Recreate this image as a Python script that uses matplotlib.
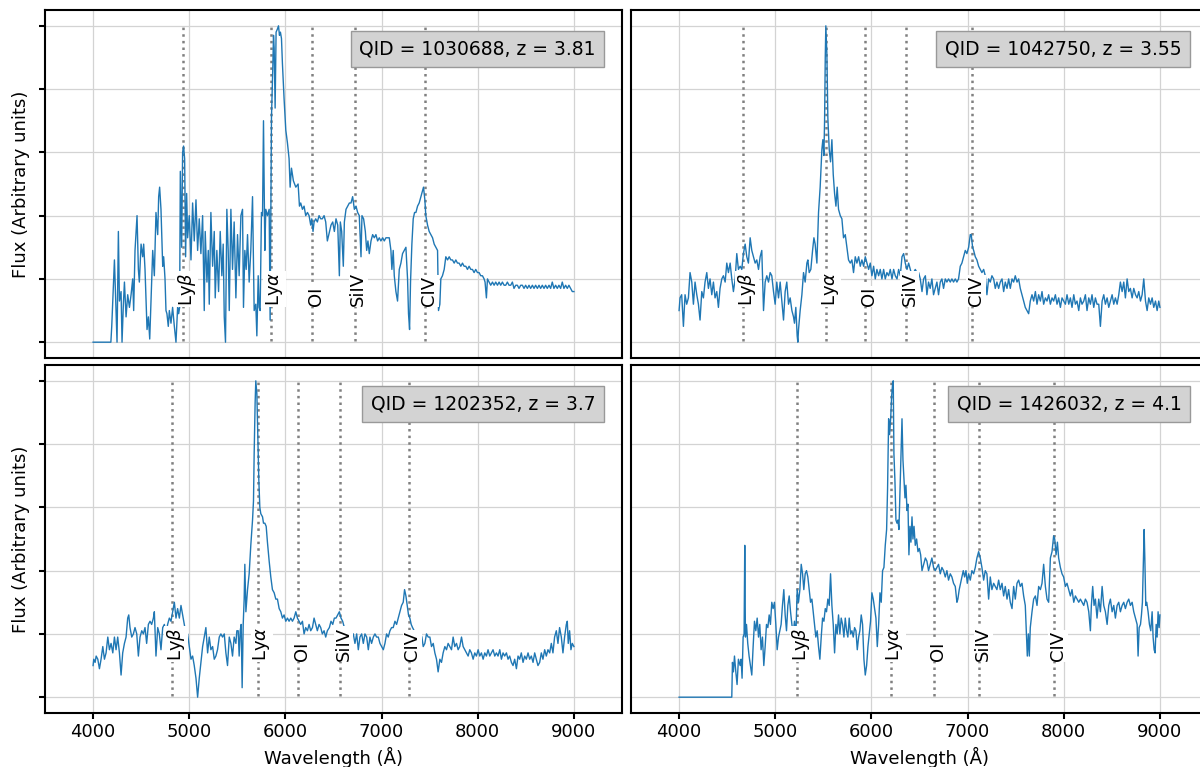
import matplotlib.pyplot as plt

plt.rcParams['font.family'] = 'DejaVu Sans'
plt.rcParams['font.size'] = 13

# emission lines (rest frame, Angstrom)
line_names = [r'Ly$\beta$', r'Ly$\alpha$', 'OI', 'SiIV', 'CIV']
line_rest = [1025.72, 1215.67, 1304.35, 1396.76, 1549.06]

qids = [1030688, 1042750, 1202352, 1426032]
redshifts = [3.81, 3.55, 3.7, 4.1]

# (wavelength, normalised flux)
spec_1030688 = [
    (4000, 0.00), (4185, 0.00), (4194, 0.05), (4205, 0.13), (4222, 0.26), (4239, 0.10), (4249, 0.00),
    (4263, 0.35), (4274, 0.13), (4291, 0.16), (4301, 0.00), (4315, 0.12), (4326, 0.19), (4343, 0.08),
    (4360, 0.15), (4378, 0.11), (4395, 0.15), (4412, 0.20), (4422, 0.10), (4436, 0.29), (4457, 0.40),
    (4471, 0.23), (4481, 0.19), (4499, 0.31), (4516, 0.27), (4526, 0.31), (4540, 0.23), (4551, 0.13),
    (4561, 0.04), (4575, 0.08), (4589, 0.01), (4602, 0.13), (4620, 0.29), (4637, 0.21), (4654, 0.41),
    (4672, 0.34), (4682, 0.46), (4692, 0.49), (4706, 0.42), (4724, 0.24), (4734, 0.27), (4748, 0.20),
    (4758, 0.10), (4768, 0.09), (4782, 0.05), (4793, 0.10), (4810, 0.06), (4827, 0.11), (4845, 0.05),
    (4862, 0.00), (4879, 0.11), (4890, 0.09), (4900, 0.11), (4907, 0.54), (4921, 0.30), (4931, 0.60),
    (4941, 0.62), (4952, 0.58), (4962, 0.27), (4973, 0.47), (4983, 0.33), (5000, 0.40), (5018, 0.26),
    (5035, 0.44), (5052, 0.32), (5070, 0.45), (5087, 0.29), (5104, 0.39), (5121, 0.28), (5139, 0.40),
    (5156, 0.10), (5166, 0.35), (5184, 0.19), (5198, 0.29), (5208, 0.12), (5225, 0.41), (5243, 0.24),
    (5260, 0.35), (5270, 0.14), (5287, 0.29), (5305, 0.16), (5322, 0.35), (5339, 0.21), (5353, 0.31),
    (5364, 0.08), (5377, 0.00), (5391, 0.42), (5405, 0.29), (5416, 0.10), (5433, 0.42), (5450, 0.23),
    (5467, 0.38), (5485, 0.14), (5502, 0.34), (5519, 0.21), (5537, 0.40), (5554, 0.42), (5564, 0.11),
    (5578, 0.29), (5592, 0.23), (5606, 0.34), (5623, 0.19), (5640, 0.29), (5658, 0.46), (5675, 0.10),
    (5692, 0.12), (5703, 0.02), (5717, 0.21), (5727, 0.11), (5737, 0.10), (5751, 0.41), (5762, 0.40),
    (5772, 0.70), (5786, 0.29), (5796, 0.42), (5813, 0.40), (5831, 0.42), (5841, 0.07), (5855, 0.71),
    (5869, 0.87), (5876, 0.97), (5883, 0.93), (5893, 0.74), (5903, 0.98), (5917, 0.99), (5928, 1.00),
    (5938, 0.97), (5948, 0.98), (5959, 0.96), (5969, 0.88), (5986, 0.77), (6004, 0.67), (6021, 0.63),
    (6038, 0.58), (6049, 0.49), (6063, 0.55), (6083, 0.51), (6108, 0.49), (6132, 0.50), (6146, 0.43),
    (6159, 0.44), (6177, 0.42), (6194, 0.43), (6211, 0.40), (6229, 0.41), (6246, 0.40), (6263, 0.37),
    (6274, 0.39), (6287, 0.35), (6298, 0.38), (6315, 0.39), (6332, 0.38), (6350, 0.40), (6367, 0.39),
    (6384, 0.39), (6402, 0.40), (6419, 0.38), (6436, 0.32), (6474, 0.37), (6492, 0.38), (6509, 0.35),
    (6526, 0.39), (6544, 0.37), (6561, 0.21), (6571, 0.38), (6585, 0.35), (6602, 0.24), (6613, 0.38),
    (6630, 0.42), (6647, 0.43), (6665, 0.44), (6682, 0.44), (6699, 0.46), (6717, 0.42), (6734, 0.43),
    (6751, 0.41), (6768, 0.40), (6786, 0.27), (6796, 0.40), (6813, 0.39), (6831, 0.35), (6845, 0.29),
    (6858, 0.32), (6872, 0.28), (6890, 0.32), (6907, 0.34), (6924, 0.33), (6941, 0.34), (6959, 0.32),
    (6976, 0.33), (6993, 0.32), (7011, 0.33), (7028, 0.32), (7045, 0.33), (7062, 0.33), (7080, 0.33),
    (7097, 0.29), (7107, 0.23), (7121, 0.29), (7132, 0.21), (7149, 0.16), (7166, 0.13), (7184, 0.23),
    (7201, 0.25), (7218, 0.28), (7236, 0.29), (7253, 0.30), (7270, 0.20), (7280, 0.09), (7291, 0.04),
    (7301, 0.19), (7315, 0.31), (7329, 0.39), (7343, 0.41), (7357, 0.41), (7374, 0.43), (7391, 0.44),
    (7409, 0.46), (7426, 0.48), (7436, 0.49), (7450, 0.45), (7460, 0.40), (7478, 0.37), (7495, 0.35),
    (7512, 0.34), (7530, 0.33), (7547, 0.31), (7564, 0.30), (7582, 0.29), (7592, 0.10), (7606, 0.12),
    (7616, 0.20), (7633, 0.21), (7651, 0.23), (7668, 0.27), (7686, 0.26), (7703, 0.27), (7720, 0.26),
    (7737, 0.26), (7755, 0.25), (7772, 0.26), (7789, 0.25), (7806, 0.25), (7824, 0.24), (7841, 0.25),
    (7858, 0.24), (7876, 0.24), (7893, 0.23), (7910, 0.24), (7928, 0.23), (7945, 0.23), (7962, 0.22),
    (7979, 0.23), (7997, 0.22), (8014, 0.22), (8031, 0.21), (8049, 0.21), (8066, 0.20), (8076, 0.19),
    (8090, 0.14), (8101, 0.20), (8118, 0.19), (8135, 0.18), (8153, 0.19), (8170, 0.18), (8187, 0.19),
    (8205, 0.18), (8222, 0.19), (8239, 0.18), (8256, 0.19), (8274, 0.18), (8291, 0.18), (8308, 0.19),
    (8325, 0.18), (8343, 0.18), (8360, 0.19), (8377, 0.17), (8395, 0.18), (8412, 0.18), (8429, 0.17),
    (8447, 0.18), (8464, 0.18), (8481, 0.17), (8498, 0.18), (8516, 0.17), (8533, 0.18), (8550, 0.17),
    (8568, 0.18), (8585, 0.17), (8602, 0.18), (8620, 0.17), (8637, 0.18), (8654, 0.17), (8671, 0.18),
    (8689, 0.17), (8706, 0.18), (8723, 0.17), (8741, 0.18), (8758, 0.17), (8775, 0.19), (8792, 0.17),
    (8810, 0.18), (8827, 0.17), (8844, 0.18), (8862, 0.17), (8879, 0.19), (8896, 0.17), (8914, 0.18),
    (8931, 0.17), (8948, 0.18), (8966, 0.17), (8983, 0.16), (9000, 0.16),
]

spec_1042750 = [
    (4000, 0.10), (4010, 0.14), (4027, 0.15), (4045, 0.05), (4062, 0.15), (4079, 0.12), (4097, 0.14),
    (4114, 0.22), (4132, 0.19), (4149, 0.12), (4166, 0.19), (4184, 0.15), (4201, 0.12), (4218, 0.07),
    (4236, 0.16), (4253, 0.14), (4270, 0.19), (4288, 0.22), (4305, 0.17), (4322, 0.20), (4340, 0.15),
    (4357, 0.19), (4374, 0.14), (4392, 0.16), (4409, 0.11), (4426, 0.17), (4444, 0.20), (4461, 0.21),
    (4479, 0.19), (4496, 0.25), (4513, 0.22), (4531, 0.25), (4548, 0.20), (4565, 0.16), (4583, 0.20),
    (4600, 0.28), (4617, 0.23), (4635, 0.24), (4652, 0.23), (4669, 0.28), (4687, 0.31), (4704, 0.27),
    (4721, 0.25), (4739, 0.33), (4756, 0.29), (4773, 0.27), (4791, 0.25), (4808, 0.26), (4826, 0.23),
    (4843, 0.27), (4860, 0.29), (4878, 0.10), (4895, 0.19), (4912, 0.21), (4930, 0.19), (4947, 0.22),
    (4964, 0.21), (4982, 0.16), (4999, 0.12), (5016, 0.19), (5034, 0.14), (5051, 0.19), (5068, 0.13),
    (5086, 0.07), (5103, 0.16), (5120, 0.19), (5138, 0.12), (5155, 0.14), (5173, 0.10), (5190, 0.08),
    (5200, 0.06), (5214, 0.11), (5228, 0.02), (5235, 0.00), (5242, 0.04), (5259, 0.10), (5277, 0.15),
    (5294, 0.22), (5311, 0.19), (5329, 0.25), (5339, 0.26), (5353, 0.22), (5370, 0.23), (5388, 0.29),
    (5402, 0.33), (5415, 0.31), (5433, 0.25), (5450, 0.41), (5467, 0.49), (5485, 0.61), (5495, 0.64),
    (5506, 0.59), (5513, 0.70), (5520, 0.90), (5526, 1.00), (5537, 0.91), (5547, 0.71), (5561, 0.61),
    (5575, 0.57), (5589, 0.64), (5603, 0.53), (5617, 0.47), (5631, 0.43), (5644, 0.49), (5658, 0.42),
    (5676, 0.40), (5693, 0.39), (5710, 0.33), (5728, 0.34), (5745, 0.30), (5762, 0.26), (5780, 0.25),
    (5797, 0.26), (5814, 0.22), (5832, 0.27), (5849, 0.25), (5867, 0.27), (5884, 0.24), (5901, 0.26),
    (5919, 0.24), (5936, 0.27), (5953, 0.25), (5971, 0.23), (5988, 0.25), (6005, 0.21), (6023, 0.24),
    (6040, 0.20), (6057, 0.23), (6075, 0.21), (6092, 0.23), (6109, 0.20), (6127, 0.23), (6144, 0.20),
    (6161, 0.22), (6179, 0.21), (6196, 0.23), (6214, 0.20), (6231, 0.23), (6248, 0.21), (6266, 0.20),
    (6283, 0.23), (6300, 0.21), (6318, 0.27), (6335, 0.28), (6352, 0.25), (6370, 0.23), (6387, 0.25),
    (6404, 0.23), (6422, 0.21), (6439, 0.22), (6456, 0.23), (6474, 0.22), (6491, 0.22), (6508, 0.20),
    (6526, 0.16), (6543, 0.20), (6561, 0.21), (6577, 0.15), (6594, 0.19), (6611, 0.17), (6629, 0.20),
    (6646, 0.15), (6664, 0.17), (6681, 0.19), (6698, 0.15), (6716, 0.19), (6733, 0.20), (6750, 0.17),
    (6768, 0.20), (6785, 0.19), (6802, 0.20), (6820, 0.19), (6837, 0.20), (6854, 0.19), (6872, 0.20),
    (6889, 0.19), (6906, 0.20), (6924, 0.24), (6941, 0.25), (6958, 0.27), (6976, 0.29), (6993, 0.28),
    (7011, 0.30), (7028, 0.34), (7038, 0.34), (7052, 0.30), (7063, 0.29), (7080, 0.27), (7097, 0.26),
    (7115, 0.24), (7132, 0.23), (7149, 0.22), (7167, 0.23), (7184, 0.21), (7201, 0.15), (7219, 0.20),
    (7236, 0.19), (7253, 0.21), (7271, 0.20), (7288, 0.17), (7305, 0.19), (7323, 0.17), (7340, 0.19),
    (7358, 0.20), (7375, 0.16), (7392, 0.19), (7410, 0.17), (7427, 0.20), (7444, 0.17), (7462, 0.20),
    (7479, 0.19), (7496, 0.21), (7514, 0.19), (7531, 0.20), (7548, 0.17), (7566, 0.15), (7583, 0.13),
    (7600, 0.11), (7618, 0.10), (7635, 0.09), (7652, 0.13), (7670, 0.15), (7687, 0.13), (7705, 0.16),
    (7722, 0.12), (7739, 0.15), (7757, 0.13), (7774, 0.16), (7791, 0.12), (7809, 0.14), (7826, 0.13),
    (7843, 0.15), (7861, 0.12), (7878, 0.14), (7895, 0.13), (7913, 0.15), (7930, 0.12), (7947, 0.14),
    (7965, 0.11), (7982, 0.14), (7999, 0.13), (8017, 0.12), (8034, 0.15), (8052, 0.12), (8069, 0.14),
    (8086, 0.11), (8104, 0.15), (8121, 0.12), (8138, 0.13), (8156, 0.10), (8173, 0.14), (8190, 0.12),
    (8208, 0.13), (8225, 0.15), (8242, 0.10), (8260, 0.14), (8277, 0.12), (8294, 0.15), (8312, 0.11),
    (8329, 0.14), (8346, 0.12), (8364, 0.12), (8381, 0.05), (8399, 0.13), (8416, 0.15), (8433, 0.12),
    (8451, 0.14), (8468, 0.11), (8485, 0.13), (8503, 0.15), (8520, 0.12), (8537, 0.14), (8555, 0.12),
    (8572, 0.15), (8589, 0.19), (8607, 0.16), (8624, 0.19), (8641, 0.14), (8659, 0.20), (8676, 0.16),
    (8693, 0.17), (8711, 0.14), (8728, 0.17), (8746, 0.15), (8763, 0.14), (8780, 0.16), (8798, 0.13),
    (8815, 0.15), (8832, 0.20), (8850, 0.13), (8867, 0.10), (8884, 0.14), (8902, 0.12), (8919, 0.14),
    (8936, 0.11), (8954, 0.13), (8971, 0.10), (8988, 0.13), (9000, 0.11),
]

spec_1202352 = [
    (4000, 0.10), (4007, 0.12), (4021, 0.11), (4032, 0.13), (4049, 0.12), (4066, 0.09), (4083, 0.12),
    (4101, 0.16), (4118, 0.12), (4135, 0.14), (4153, 0.19), (4170, 0.15), (4187, 0.17), (4205, 0.14),
    (4222, 0.19), (4239, 0.15), (4256, 0.19), (4274, 0.14), (4291, 0.07), (4308, 0.14), (4326, 0.17),
    (4343, 0.19), (4360, 0.25), (4371, 0.26), (4384, 0.22), (4402, 0.19), (4419, 0.20), (4436, 0.22),
    (4454, 0.20), (4471, 0.13), (4488, 0.19), (4506, 0.21), (4523, 0.20), (4540, 0.22), (4557, 0.17),
    (4575, 0.23), (4592, 0.24), (4609, 0.23), (4627, 0.25), (4637, 0.27), (4654, 0.13), (4672, 0.22),
    (4689, 0.20), (4706, 0.15), (4724, 0.22), (4741, 0.23), (4758, 0.20), (4775, 0.23), (4793, 0.25),
    (4810, 0.24), (4827, 0.27), (4845, 0.30), (4862, 0.25), (4879, 0.28), (4897, 0.25), (4914, 0.29),
    (4931, 0.26), (4948, 0.23), (4960, 0.21), (4973, 0.19), (4983, 0.20), (5000, 0.16), (5018, 0.12),
    (5035, 0.13), (5052, 0.10), (5070, 0.06), (5087, 0.00), (5104, 0.06), (5121, 0.11), (5139, 0.16),
    (5156, 0.19), (5173, 0.22), (5191, 0.14), (5208, 0.19), (5225, 0.15), (5243, 0.16), (5260, 0.12),
    (5277, 0.13), (5294, 0.15), (5312, 0.19), (5329, 0.20), (5346, 0.19), (5364, 0.20), (5381, 0.14),
    (5398, 0.10), (5416, 0.19), (5433, 0.17), (5450, 0.13), (5467, 0.19), (5485, 0.17), (5495, 0.21),
    (5509, 0.21), (5519, 0.13), (5530, 0.21), (5540, 0.23), (5550, 0.03), (5561, 0.23), (5571, 0.31),
    (5578, 0.42), (5589, 0.27), (5606, 0.34), (5623, 0.39), (5640, 0.48), (5658, 0.56), (5668, 0.62),
    (5675, 0.77), (5685, 0.93), (5692, 1.00), (5703, 0.96), (5713, 0.82), (5723, 0.69), (5734, 0.60),
    (5744, 0.58), (5762, 0.57), (5772, 0.55), (5786, 0.55), (5800, 0.54), (5813, 0.49), (5831, 0.43),
    (5848, 0.38), (5865, 0.34), (5883, 0.33), (5900, 0.31), (5917, 0.31), (5935, 0.28), (5952, 0.27),
    (5969, 0.25), (5986, 0.26), (6004, 0.24), (6021, 0.25), (6038, 0.24), (6056, 0.25), (6073, 0.24),
    (6090, 0.25), (6108, 0.27), (6125, 0.25), (6142, 0.24), (6159, 0.23), (6177, 0.24), (6194, 0.20),
    (6211, 0.22), (6229, 0.21), (6246, 0.23), (6263, 0.21), (6281, 0.22), (6298, 0.25), (6315, 0.23),
    (6332, 0.21), (6350, 0.23), (6367, 0.22), (6384, 0.20), (6402, 0.21), (6419, 0.19), (6436, 0.21),
    (6457, 0.22), (6474, 0.24), (6492, 0.23), (6509, 0.25), (6526, 0.25), (6544, 0.26), (6561, 0.27),
    (6578, 0.25), (6595, 0.24), (6613, 0.22), (6640, 0.21), (6670, 0.20), (6706, 0.20), (6723, 0.17),
    (6741, 0.20), (6758, 0.15), (6775, 0.19), (6793, 0.20), (6810, 0.17), (6827, 0.20), (6845, 0.19),
    (6862, 0.15), (6879, 0.19), (6896, 0.17), (6914, 0.19), (6931, 0.20), (6948, 0.19), (6966, 0.19),
    (6983, 0.17), (7000, 0.16), (7018, 0.15), (7035, 0.17), (7052, 0.20), (7069, 0.19), (7087, 0.21),
    (7104, 0.22), (7121, 0.22), (7139, 0.24), (7156, 0.23), (7173, 0.25), (7191, 0.27), (7208, 0.29),
    (7225, 0.30), (7239, 0.34), (7253, 0.32), (7267, 0.29), (7280, 0.26), (7294, 0.25), (7308, 0.23),
    (7322, 0.22), (7339, 0.21), (7357, 0.21), (7374, 0.21), (7391, 0.21), (7405, 0.20), (7419, 0.19),
    (7433, 0.16), (7450, 0.17), (7467, 0.20), (7485, 0.19), (7502, 0.19), (7519, 0.16), (7537, 0.17),
    (7554, 0.14), (7571, 0.12), (7588, 0.08), (7606, 0.12), (7623, 0.11), (7640, 0.14), (7658, 0.16),
    (7675, 0.15), (7692, 0.17), (7710, 0.16), (7727, 0.15), (7744, 0.19), (7761, 0.16), (7779, 0.17),
    (7796, 0.15), (7813, 0.16), (7831, 0.19), (7848, 0.16), (7865, 0.15), (7883, 0.14), (7900, 0.13),
    (7917, 0.15), (7934, 0.14), (7952, 0.12), (7969, 0.14), (7986, 0.13), (8004, 0.15), (8021, 0.13),
    (8038, 0.14), (8056, 0.12), (8073, 0.14), (8090, 0.13), (8107, 0.15), (8125, 0.13), (8142, 0.14),
    (8159, 0.15), (8177, 0.13), (8194, 0.14), (8211, 0.13), (8229, 0.15), (8246, 0.12), (8263, 0.14),
    (8280, 0.13), (8298, 0.14), (8315, 0.12), (8332, 0.13), (8350, 0.11), (8367, 0.10), (8384, 0.12),
    (8402, 0.09), (8419, 0.13), (8436, 0.12), (8453, 0.14), (8471, 0.11), (8488, 0.13), (8505, 0.12),
    (8523, 0.14), (8540, 0.12), (8557, 0.13), (8575, 0.11), (8592, 0.14), (8609, 0.12), (8626, 0.10),
    (8644, 0.11), (8661, 0.14), (8678, 0.12), (8696, 0.15), (8713, 0.13), (8730, 0.15), (8748, 0.14),
    (8765, 0.17), (8782, 0.14), (8799, 0.19), (8817, 0.21), (8834, 0.17), (8851, 0.22), (8869, 0.19),
    (8886, 0.14), (8903, 0.19), (8921, 0.23), (8931, 0.24), (8941, 0.17), (8955, 0.21), (8969, 0.15),
    (8983, 0.17), (9000, 0.16),
]

spec_1426032 = [
    (4000, 0.00), (4548, 0.00), (4555, 0.11), (4565, 0.08), (4576, 0.13), (4590, 0.08), (4603, 0.04),
    (4617, 0.12), (4635, 0.10), (4645, 0.12), (4655, 0.06), (4666, 0.19), (4676, 0.20), (4683, 0.48),
    (4690, 0.19), (4701, 0.23), (4714, 0.17), (4728, 0.13), (4742, 0.10), (4756, 0.07), (4770, 0.16),
    (4784, 0.24), (4798, 0.21), (4812, 0.25), (4826, 0.19), (4839, 0.23), (4853, 0.15), (4867, 0.19),
    (4881, 0.10), (4895, 0.16), (4909, 0.23), (4923, 0.22), (4937, 0.26), (4950, 0.23), (4964, 0.30),
    (4978, 0.28), (4992, 0.30), (5006, 0.23), (5020, 0.15), (5034, 0.19), (5048, 0.21), (5061, 0.23),
    (5075, 0.29), (5089, 0.34), (5103, 0.26), (5117, 0.21), (5131, 0.29), (5145, 0.32), (5159, 0.27),
    (5173, 0.23), (5186, 0.20), (5200, 0.24), (5214, 0.19), (5228, 0.34), (5242, 0.30), (5256, 0.34),
    (5270, 0.42), (5284, 0.39), (5297, 0.34), (5311, 0.39), (5325, 0.40), (5339, 0.38), (5353, 0.34),
    (5367, 0.30), (5381, 0.31), (5395, 0.27), (5408, 0.23), (5422, 0.19), (5436, 0.21), (5450, 0.16),
    (5464, 0.12), (5478, 0.19), (5492, 0.25), (5506, 0.24), (5520, 0.28), (5533, 0.27), (5547, 0.31),
    (5561, 0.29), (5575, 0.39), (5589, 0.29), (5603, 0.23), (5617, 0.14), (5631, 0.23), (5644, 0.20),
    (5658, 0.26), (5672, 0.20), (5686, 0.25), (5700, 0.23), (5714, 0.19), (5728, 0.25), (5742, 0.21),
    (5755, 0.19), (5769, 0.25), (5783, 0.20), (5797, 0.21), (5811, 0.19), (5825, 0.22), (5839, 0.21),
    (5853, 0.15), (5867, 0.19), (5880, 0.21), (5894, 0.26), (5908, 0.23), (5922, 0.12), (5936, 0.07),
    (5950, 0.10), (5964, 0.16), (5978, 0.20), (5991, 0.24), (6005, 0.33), (6019, 0.31), (6033, 0.28),
    (6047, 0.25), (6061, 0.16), (6075, 0.23), (6089, 0.33), (6102, 0.30), (6116, 0.40), (6130, 0.41),
    (6144, 0.48), (6158, 0.53), (6168, 0.66), (6179, 0.88), (6189, 0.83), (6200, 0.88), (6210, 0.95),
    (6220, 0.99), (6227, 1.00), (6234, 0.77), (6245, 0.68), (6255, 0.56), (6266, 0.55), (6276, 0.56),
    (6286, 0.53), (6297, 0.65), (6307, 0.75), (6318, 0.88), (6328, 0.75), (6338, 0.69), (6349, 0.63),
    (6359, 0.67), (6370, 0.59), (6380, 0.61), (6390, 0.45), (6401, 0.54), (6411, 0.49), (6422, 0.57),
    (6432, 0.50), (6443, 0.54), (6456, 0.48), (6470, 0.50), (6484, 0.46), (6498, 0.47), (6512, 0.45),
    (6526, 0.40), (6543, 0.42), (6561, 0.44), (6577, 0.43), (6594, 0.40), (6611, 0.42), (6629, 0.44),
    (6646, 0.41), (6664, 0.40), (6681, 0.41), (6698, 0.42), (6716, 0.39), (6733, 0.41), (6750, 0.40),
    (6768, 0.38), (6785, 0.40), (6802, 0.37), (6820, 0.39), (6837, 0.38), (6854, 0.36), (6872, 0.35),
    (6889, 0.30), (6899, 0.31), (6913, 0.34), (6927, 0.36), (6941, 0.38), (6955, 0.40), (6969, 0.38),
    (6983, 0.40), (6997, 0.36), (7011, 0.39), (7028, 0.37), (7045, 0.40), (7063, 0.39), (7080, 0.41),
    (7097, 0.44), (7115, 0.46), (7132, 0.44), (7149, 0.41), (7167, 0.37), (7184, 0.40), (7201, 0.39),
    (7219, 0.31), (7236, 0.38), (7253, 0.34), (7271, 0.36), (7288, 0.35), (7305, 0.34), (7323, 0.37),
    (7340, 0.34), (7358, 0.36), (7375, 0.32), (7392, 0.35), (7410, 0.31), (7427, 0.34), (7444, 0.30),
    (7462, 0.28), (7479, 0.35), (7496, 0.31), (7514, 0.36), (7531, 0.37), (7548, 0.35), (7566, 0.36),
    (7583, 0.32), (7600, 0.29), (7611, 0.21), (7621, 0.13), (7632, 0.20), (7642, 0.13), (7652, 0.22),
    (7670, 0.27), (7687, 0.31), (7705, 0.32), (7722, 0.29), (7739, 0.35), (7757, 0.34), (7774, 0.36),
    (7791, 0.42), (7809, 0.35), (7826, 0.31), (7843, 0.30), (7861, 0.44), (7878, 0.46), (7895, 0.51),
    (7906, 0.50), (7920, 0.45), (7934, 0.49), (7947, 0.44), (7965, 0.41), (7982, 0.39), (7999, 0.38),
    (8017, 0.35), (8034, 0.36), (8052, 0.34), (8069, 0.32), (8086, 0.34), (8104, 0.30), (8121, 0.32),
    (8138, 0.31), (8156, 0.30), (8173, 0.31), (8190, 0.30), (8208, 0.29), (8225, 0.31), (8242, 0.30),
    (8260, 0.27), (8277, 0.21), (8287, 0.29), (8301, 0.35), (8315, 0.29), (8329, 0.31), (8346, 0.25),
    (8364, 0.31), (8381, 0.27), (8399, 0.35), (8416, 0.29), (8433, 0.27), (8451, 0.23), (8468, 0.29),
    (8485, 0.31), (8503, 0.27), (8520, 0.29), (8537, 0.25), (8555, 0.29), (8572, 0.30), (8589, 0.27),
    (8607, 0.29), (8624, 0.30), (8641, 0.28), (8659, 0.30), (8676, 0.31), (8693, 0.29), (8711, 0.30),
    (8728, 0.27), (8746, 0.25), (8763, 0.23), (8773, 0.13), (8784, 0.22), (8798, 0.23), (8808, 0.26),
    (8818, 0.30), (8829, 0.44), (8836, 0.53), (8843, 0.44), (8853, 0.29), (8863, 0.30), (8877, 0.27),
    (8891, 0.23), (8905, 0.21), (8919, 0.27), (8929, 0.19), (8940, 0.15), (8950, 0.14), (8961, 0.23),
    (8971, 0.19), (8981, 0.27), (8992, 0.22), (9000, 0.26),
]

spectra = [spec_1030688, spec_1042750, spec_1202352, spec_1426032]

fig = plt.figure(figsize=(12, 7.67), dpi=100)
# axes boxes in figure fraction (left, bottom, width, height)
w, h = 577 / 1200, 348 / 767
boxes = [(45 / 1200, 1 - 358 / 767, w, h), (631 / 1200, 1 - 358 / 767, w, h),
         (45 / 1200, 1 - 713 / 767, w, h), (631 / 1200, 1 - 713 / 767, w, h)]

axes = []
for i, box in enumerate(boxes):
    share = axes[0] if axes else None
    ax = fig.add_axes(box, sharex=share, sharey=share)
    axes.append(ax)

for i, ax in enumerate(axes):
    wave = [p[0] for p in spectra[i]]
    flux = [p[1] for p in spectra[i]]
    z = redshifts[i]
    ax.plot(wave, flux, color='#1f77b4', lw=1.0, zorder=2)
    for name, rest in zip(line_names, line_rest):
        obs = rest * (1 + z)
        ax.axvline(obs, ymin=0.05, ymax=0.95, color='gray', ls=':', lw=1.8, zorder=1.5)
        ax.text(obs + 40, 0.115, name, rotation=90, ha='center', va='bottom', fontsize=13,
                zorder=3, bbox=dict(facecolor='white', edgecolor='none', pad=0.5))
    ax.text(0.954, 0.888, f'QID = {qids[i]}, z = {z}', transform=ax.transAxes,
            ha='right', va='center', fontsize=13.5, zorder=4,
            bbox=dict(boxstyle='square,pad=0.45', facecolor='lightgray', edgecolor='#999999'))

    ax.set_xlim(3500, 9500)
    ax.set_ylim(-0.05, 1.05)
    ax.set_xticks([4000, 5000, 6000, 7000, 8000, 9000])
    ax.set_yticks([0, 0.2, 0.4, 0.6, 0.8, 1.0])
    ax.grid(True, color='#d3d3d3', lw=0.9)
    ax.set_axisbelow(True)
    for sp in ax.spines.values():
        sp.set_linewidth(1.5)
    ax.tick_params(length=4, width=1.5, labelsize=13)
    ax.tick_params(axis='y', labelleft=False)
    if i % 2 == 1:
        ax.tick_params(axis='y', left=False)
    else:
        ax.set_ylabel('Flux (Arbitrary units)', fontsize=13, labelpad=7)
    if i < 2:
        ax.tick_params(axis='x', bottom=False, labelbottom=False)
    else:
        ax.set_xlabel('Wavelength (Å)', fontsize=13)

fig.savefig('out.png', dpi=100)
